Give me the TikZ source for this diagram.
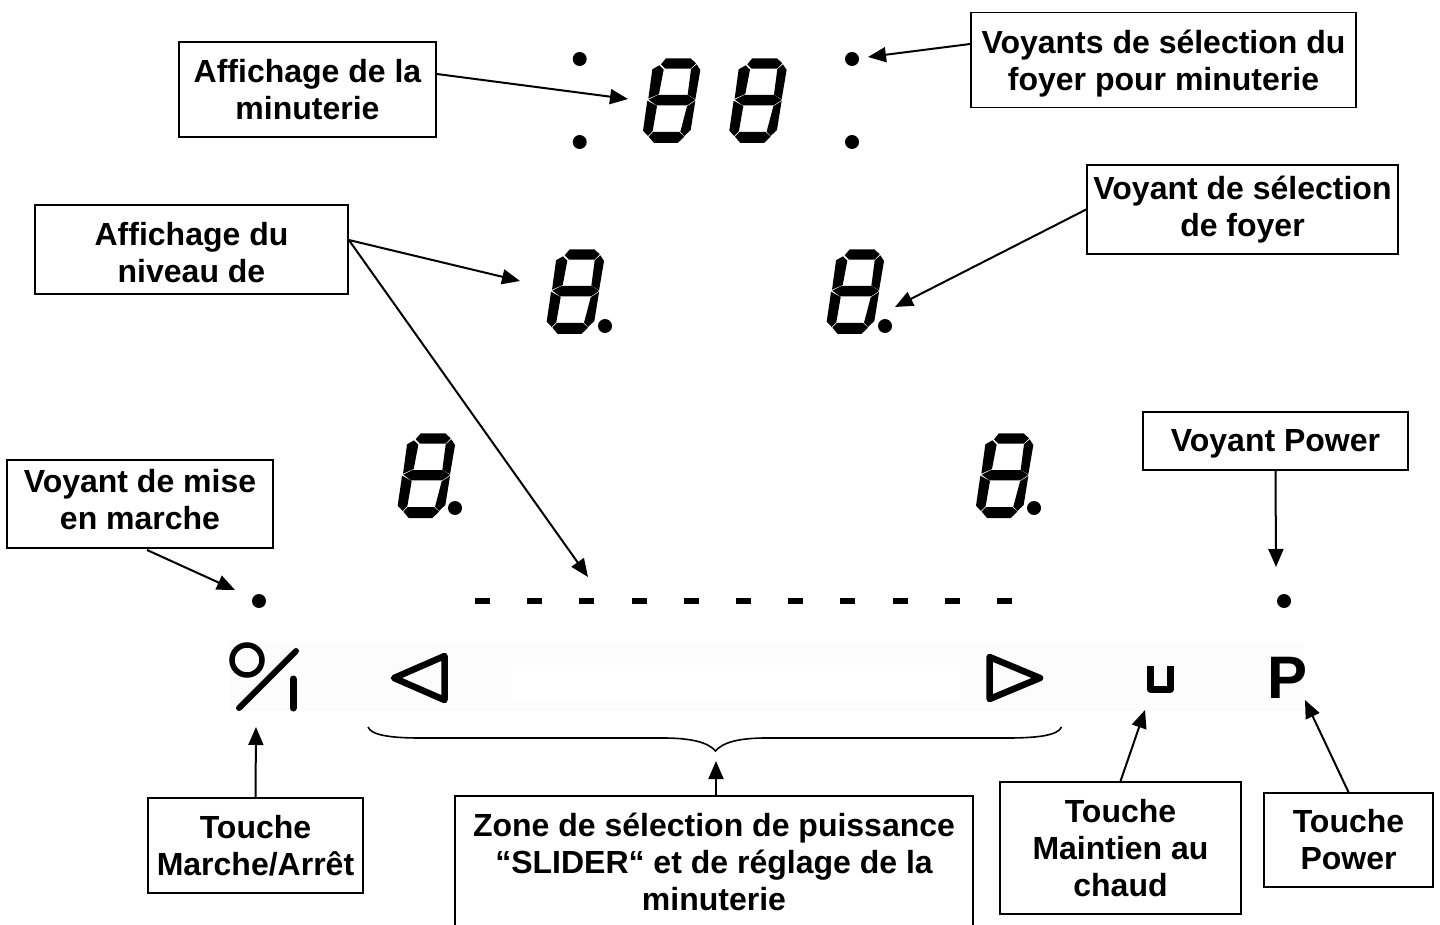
\documentclass[tikz,border=0pt]{standalone}
\usepackage{fontspec}
\setmainfont{Liberation Sans}
\usetikzlibrary{arrows.meta}
\newcommand{\sevenseg}[2]{%
\begin{scope}[shift={(#1,#2)},scale=0.33333]
\fill (303,103)--(318,85)--(392,85)--(408,100)--(392,116)--(316,116)--cycle;
\fill (410,103)--(421,120)--(406,208)--(383,194)--(393,118)--cycle;
\fill (298,106)--(311,119)--(297,192)--(265,206)--(277,118)--cycle;
\fill (266,209)--(294,195)--(384,195)--(406,210)--(382,226)--(289,226)--cycle;
\fill (262,212)--(291,228)--(278,303)--(264,318)--(249,302)--cycle;
\fill (406,213)--(392,300)--(373,318)--(361,305)--(381,229)--cycle;
\fill (266,320)--(279,306)--(358,306)--(373,320)--(353,339)--(282,339)--cycle;
\end{scope}}
\newcommand{\downby}[1]{\rule{0pt}{#1pt}}
\newcommand{\upby}[1]{\rule[-#1pt]{0pt}{0pt}}
\tikzset{
  lbl/.style={draw=black,line width=1.7pt,align=center,inner sep=0pt,fill=white,
    font=\fontsize{32}{37}\selectfont\bfseries},
  arr/.style={line width=2pt,-{Triangle[length=18pt,width=15pt]}},
  dotm/.style={fill=black,circle,inner sep=0pt,minimum size=14pt}
}
\begin{document}
\begin{tikzpicture}[x=1pt,y=-1pt]
\clip (0,0) rectangle (1440,925);
\fill[white] (0,0) rectangle (1440,925);
% light strip
\fill[black!1] (230,642) rectangle (1304,711);
\fill[white] (512,665) rectangle (960,700);
% seven segment digits
\sevenseg{560}{30}
\sevenseg{646.3}{30}
\sevenseg{463.7}{221}
\sevenseg{743.7}{221}
\sevenseg{314.7}{405}
\sevenseg{893}{405}
% dots
\node[dotm] (d1) at (579.7,59) {};
\node[dotm] (d2) at (579.7,142) {};
\node[dotm] (d3) at (852,59) {};
\node[dotm] (d4) at (852,142) {};
\node[dotm] (d5) at (605,326) {};
\node[dotm] (d6) at (885,326) {};
\node[dotm] (d7) at (455,508) {};
\node[dotm] (d8) at (1034,508) {};
\node[dotm] (d9) at (259,601) {};
\node[dotm] (d10) at (1284,601) {};
% slider dashes
\foreach \i in {0,...,10}
  \fill ({475+52.2*\i},598) rectangle ({490+52.2*\i},604);
% on/off symbol
\draw[line width=5.5pt] (247,660) circle (15);
\draw[line width=6pt,line cap=round] (239,708) -- (296,651);
\draw[line width=7pt,line cap=round] (293,679) -- (293,708);
% slider triangles
\draw[line width=6.5pt,line join=round] (394,678) -- (444.5,656) -- (444.5,700) -- cycle;
\draw[line width=6.5pt,line join=round] (989.5,657) -- (989.5,699) -- (1040,678) -- cycle;
% keep warm symbol
\draw[line width=7pt,line join=round] (1150.5,666) -- (1150.5,689) -- (1170.5,689) -- (1170.5,666);
\node[inner sep=0pt,font=\fontsize{60}{60}\selectfont\bfseries] (pw) at (1287,678) {P};
% brace
\draw[line width=1.6pt] (368,727) .. controls (371,735) and (390,738) .. (420,738)
  -- (663,738) .. controls (690,738) and (708,742) .. (715.5,751)
  .. controls (723,742) and (740,738) .. (766,738)
  -- (1007,738) .. controls (1040,738) and (1058,735) .. (1061.5,727);
% boxes
\node[lbl,minimum width=257pt,minimum height=95pt] (bTimer) at (307.5,89.5) {Affichage de la\\minuterie};
\node[lbl,minimum width=385pt,minimum height=95pt] (bSel) at (1163.5,60) {\downby{30}Voyants de sélection du\\foyer pour minuterie};
\node[lbl,minimum width=313pt,minimum height=89pt] (bLevel) at (191.5,249.5) {\downby{30}Affichage du\\niveau de};
\node[lbl,minimum width=311pt,minimum height=89pt] (bFoyer) at (1242.5,209.5) {Voyant de sélection\\de foyer};
\node[lbl,minimum width=266pt,minimum height=88pt] (bOn) at (140,504) {Voyant de mise\\en marche\upby{10}};
\node[lbl,minimum width=265pt,minimum height=58pt] (bPow) at (1275.5,441) {\downby{28}Voyant Power};
\node[lbl,minimum width=215pt,minimum height=95pt] (bKey) at (255.5,845.5) {Touche\\Marche/Arrêt};
\node[lbl,minimum width=518pt,minimum height=132pt] (bZone) at (714,862) {Zone de sélection de puissance\\“SLIDER“ et de réglage de la\\minuterie};
\node[lbl,minimum width=241pt,minimum height=132pt] (bWarm) at (1120.5,848) {Touche\\Maintien au\\chaud};
\node[lbl,minimum width=169pt,minimum height=94pt] (bPK) at (1348.5,840) {Touche\\Power};
% connector ends
\coordinate (t1) at (628,99);
\coordinate (t2) at (868,57);
\coordinate (t3) at (520,281);
\coordinate (t4) at (588,577);
\coordinate (t5) at (895,307);
\coordinate (t6) at (235,590);
\coordinate (t7) at (1276,567);
\coordinate (t8) at (256,727);
\coordinate (t9) at (716,761);
\coordinate (t10) at (1145,710);
\coordinate (t11) at (1305,700);
\coordinate (s6) at (147,550);
% connectors
\draw[arr] (bTimer.east |- 0,74) -- (t1);
\draw[arr] (bSel.west |- 0,44) -- (t2);
\draw[arr] (bLevel.east |- 0,240) -- (t3);
\draw[arr] (bLevel.east |- 0,240) -- (t4);
\draw[arr] (bFoyer.west) -- (t5);
\draw[arr] (s6) -- (t6);
\draw[arr] (bPow.south) -- (t7);
\draw[arr] (bKey.north) -- (t8);
\draw[arr] (bZone.north -| t9) -- (t9);
\draw[arr] (bWarm.north) -- (t10);
\draw[arr] (bPK.north) -- (t11);
\end{tikzpicture}
\end{document}
